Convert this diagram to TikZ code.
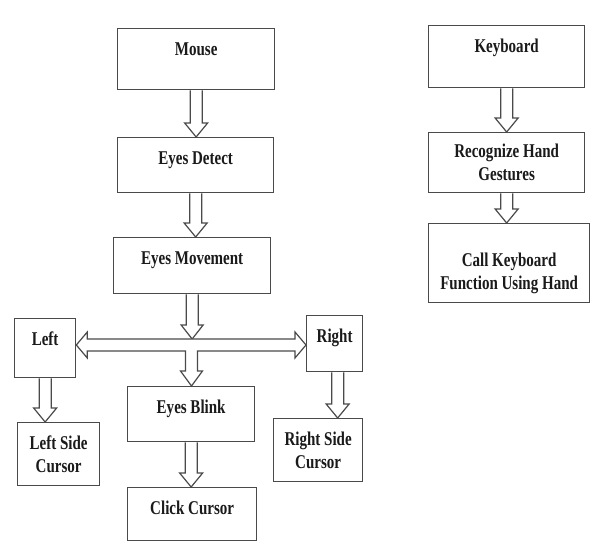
\documentclass[tikz,border=0pt]{standalone}
\usepackage{fontspec}
\newfontfamily\lblfont{Liberation Serif}[FakeStretch=0.77]
\usetikzlibrary{calc}
\definecolor{boxgray}{HTML}{4A4A4A}
\definecolor{textdark}{HTML}{1A1A1A}
\tikzset{
  box/.style={draw=boxgray, line width=1.3pt, fill=white, anchor=north west,
    inner xsep=0pt, inner ysep=0pt, align=center, text=textdark,
    font=\lblfont\bfseries\fontsize{19.5}{23}\selectfont},
  oneline/.style={text height=26.5pt, text depth=#1},
  blockarrow/.style={draw=boxgray, line width=1.2pt, fill=white, line join=miter},
}
% hollow block arrow pointing down from the bottom of #2 to the top of #3
\newcommand\blockdown[3][0pt]{%
  \draw[blockarrow] let \p1=(#2.south), \p2=(#3.north) in
    (\x1+#1-6pt,\y1) -- (\x1+#1-6pt,\y2+14pt) -- (\x1+#1-11.5pt,\y2+14pt)
    -- (\x1+#1,\y2) -- (\x1+#1+11.5pt,\y2+14pt) -- (\x1+#1+6pt,\y2+14pt)
    -- (\x1+#1+6pt,\y1);}
\begin{document}
\begin{tikzpicture}[x=1pt,y=-1pt]
\useasboundingbox[fill=white] (0,0) rectangle (590,553);

% mouse branch
\node[box, oneline=34.5pt, minimum width=157pt] (mouse) at (117,28) {Mouse};
\node[box, oneline=28.5pt, minimum width=156pt] (detect) at (117,137) {Eyes Detect};
\node[box, oneline=29.5pt, minimum width=157pt] (movement) at (113,237) {Eyes Movement};
\node[box, oneline=32.5pt, minimum width=61pt] (left) at (14,318) {Left};
\node[box, oneline=29.5pt, minimum width=56pt] (right) at (306,315) {Right};
\node[box, oneline=28.5pt, minimum width=127pt] (blink) at (127,386) {Eyes Blink};
\node[box, oneline=26.5pt, minimum width=129pt] (click) at (127,487) {Click Cursor};
\node[box, minimum width=82pt, minimum height=63pt] (leftcur) at (17,422) {Left Side\\Cursor};
\node[box, minimum width=89pt, minimum height=63pt] (rightcur) at (273,418) {Right Side\\Cursor};

% keyboard branch
\node[box, oneline=35.5pt, minimum width=156pt] (keyboard) at (428,25) {Keyboard};
\node[box, minimum width=156pt, minimum height=60pt] (recognize) at (428,132) {Recognize Hand\\Gestures};
\node[box, minimum width=161pt, minimum height=79pt] (callkb) at (428,223)
  {\rule{0pt}{35pt}Call Keyboard\\Function Using Hand};

% split point of the left/right arrow
\coordinate (split) at (191.5,345);

\blockdown{mouse}{detect}
\blockdown{detect}{movement}
\blockdown{keyboard}{recognize}
\blockdown{recognize}{callkb}
\blockdown{left}{leftcur}
\blockdown[3pt]{right}{rightcur}
\blockdown{blink}{click}

% Eyes Movement down onto the split arrow
\draw[blockarrow] let \p1=(movement.south), \p0=(split) in
  (\x1-6pt,\y1) -- (\x1-6pt,\y0+20pt) -- (\x1-11pt,\y0+20pt) -- (\x1,\y0+6pt)
  -- (\x1+11pt,\y0+20pt) -- (\x1+6pt,\y0+20pt) -- (\x1+6pt,\y1);

% double-headed arrow to Left and Right with a branch down to Eyes Blink
\draw[blockarrow] let \p0=(split), \p1=(left.east), \p2=(right.west), \p3=(blink.north) in
  (\x1,\y0) -- (\x1+11pt,\y0+13pt) -- (\x1+11pt,\y0+6pt) -- (\x2-11pt,\y0+6pt)
  -- (\x2-11pt,\y0+13pt) -- (\x2,\y0) -- (\x2-11pt,\y0-13pt) -- (\x2-11pt,\y0-6pt)
  -- (\x0+6pt,\y0-6pt) -- (\x0+6pt,\y3+15pt) -- (\x0+11pt,\y3+15pt) -- (\x0,\y3)
  -- (\x0-11pt,\y3+15pt) -- (\x0-6pt,\y3+15pt) -- (\x0-6pt,\y0-6pt)
  -- (\x1+11pt,\y0-6pt) -- (\x1+11pt,\y0-13pt) -- cycle;
\end{tikzpicture}
\end{document}
